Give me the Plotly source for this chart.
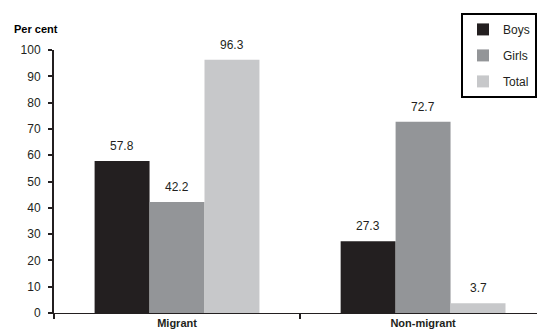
import plotly.graph_objects as go

categories = ["Migrant", "Non-migrant"]
series_names = ["Boys", "Girls", "Total"]
boys = [57.8, 27.3]
girls = [42.2, 72.7]
total = [96.3, 3.7]
y_ticks = [0, 10, 20, 30, 40, 50, 60, 70, 80, 90, 100]

colors = ["#231f20", "#939598", "#c7c8ca"]
values = [boys, girls, total]

fig = go.Figure()
for i, (name, vals, col) in enumerate(zip(series_names, values, colors)):
    fig.add_trace(go.Bar(
        x=categories, y=vals, name=name,
        marker=dict(color=col, line=dict(width=0)),
        legendgroup=name,
    ))

# value labels above each bar
group_width = 0.67
bar_w = group_width / len(series_names)
for i, vals in enumerate(values):
    off = (i - 1) * bar_w
    for ci, v in enumerate(vals):
        fig.add_annotation(
            x=ci + off, y=v, xref="x", yref="y",
            text=f"{v:.1f}", showarrow=False,
            yanchor="bottom", yshift=6,
            font=dict(family="Liberation Sans, Arial", size=12, color="#231f20"),
        )

fig.add_annotation(
    x=-0.087, y=1.05, xref="paper", yref="paper",
    xanchor="left", yanchor="bottom",
    text="<b>Per cent</b>", showarrow=False,
    font=dict(family="Liberation Sans, Arial", size=11, color="#000000"),
)

fig.update_layout(
    width=537, height=334,
    margin=dict(l=54, r=0, t=50, b=21),
    paper_bgcolor="white", plot_bgcolor="white",
    barmode="group", bargap=0.33, bargroupgap=0,
    font=dict(family="Liberation Sans, Arial", size=12, color="#231f20"),
    legend=dict(
        x=1, y=1.141, xanchor="right", yanchor="top",
        bordercolor="#000000", borderwidth=2,
        font=dict(size=12, color="#231f20"),
        tracegroupgap=7, traceorder="grouped",
    ),
    xaxis=dict(
        type="category", range=[-0.5, 1.463],
        showline=True, linecolor="#231f20", linewidth=1,
        ticks="outside", ticklen=5, tickcolor="#231f20", tickwidth=2,
        tickson="boundaries",
        tickfont=dict(size=11, color="#231f20"),
        tickvals=categories,
        ticktext=[f"<b>{c}</b>" for c in categories],
        showgrid=False, zeroline=False,
    ),
    yaxis=dict(
        range=[0, 100], tickvals=y_ticks,
        showline=True, linecolor="#231f20", linewidth=2,
        ticks="outside", ticklen=4, tickcolor="#231f20", tickwidth=2,
        ticklabelstandoff=5,
        tickfont=dict(size=12, color="#231f20"),
        showgrid=False, zeroline=False,
    ),
)

fig.write_html("out.html")
